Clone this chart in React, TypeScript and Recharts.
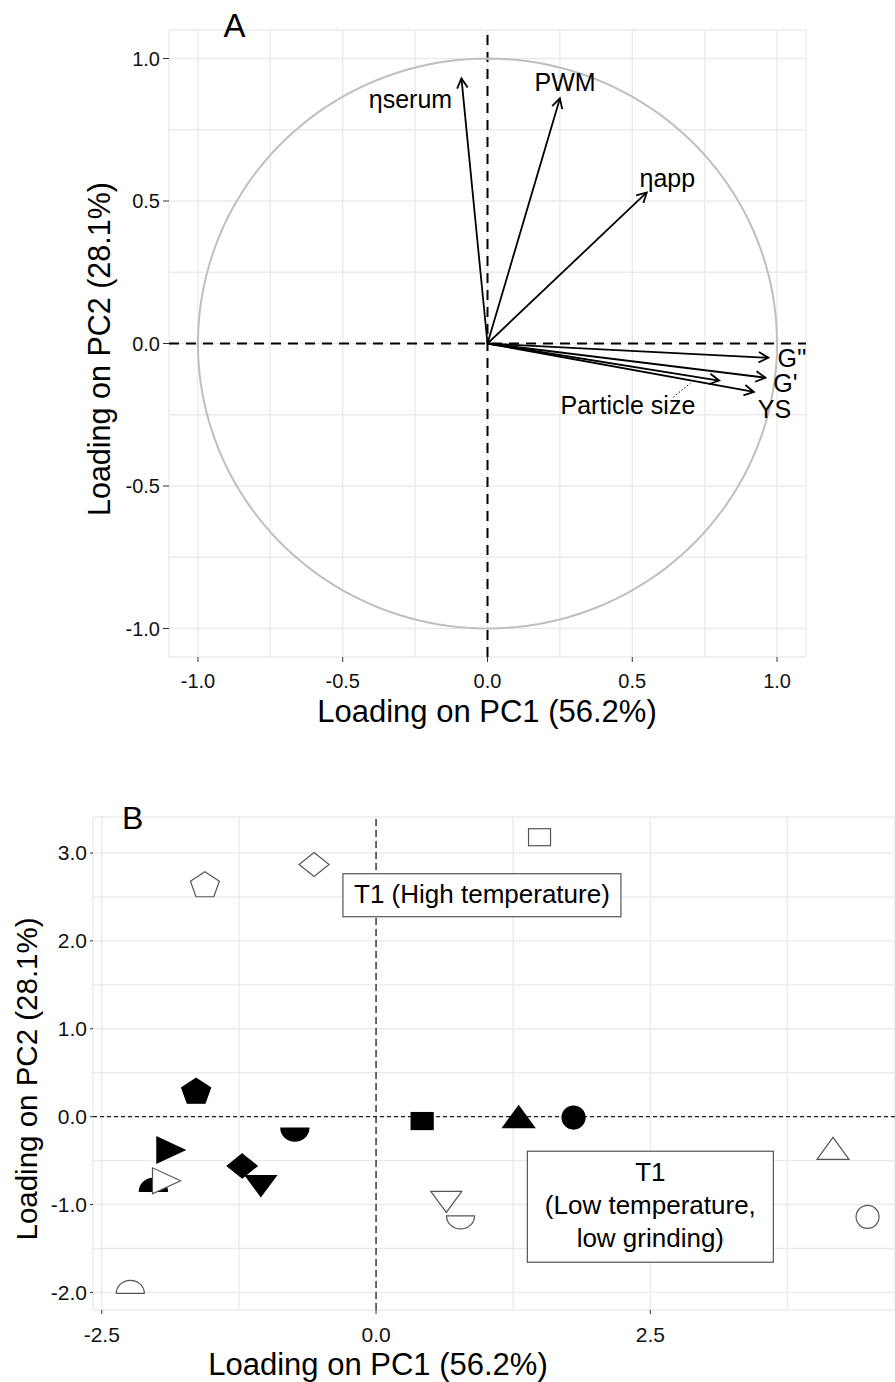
import React from "react";
import {
  ScatterChart,
  Scatter,
  XAxis,
  YAxis,
  CartesianGrid,
  ReferenceLine,
} from "recharts";

const FONT = "'Liberation Sans', Arial, Helvetica, sans-serif";

// ---------- panel A: loadings ----------
const loadingNames = ["ηserum", "PWM", "ηapp", "G''", "G'", "Particle size", "YS"];
const loadingPC1 = [-0.09, 0.25, 0.55, 0.97, 0.96, 0.8, 0.92];
const loadingPC2 = [0.93, 0.86, 0.53, -0.05, -0.12, -0.13, -0.17];
const labelPC1 = [-0.266, 0.268, 0.621, 1.052, 1.029, 0.485, 0.991];
const labelPC2 = [0.825, 0.886, 0.549, -0.082, -0.17, -0.246, -0.26];
const leaderStart = { x: 0.642, y: -0.188 };
const leaderEnd = { x: 0.701, y: -0.139 };
const ticksA = [-1, -0.5, 0, 0.5, 1];
const gridA = [-1, -0.75, -0.5, -0.25, 0, 0.25, 0.5, 0.75, 1];

// correlation circle, radius 1
const circleAngles = Array.from({ length: 181 }, (_, i) => (i * 2 * Math.PI) / 180);
const unitCircle = circleAngles.map((a) => ({ x: Math.cos(a), y: Math.sin(a) }));

// ---------- panel B: scores ----------
const markerShapes = [
  "circle",
  "triangleUp",
  "square",
  "pentagon",
  "diamond",
  "triangleDown",
  "triangleRight",
  "halfUp",
  "halfDown",
];
const filledPC1 = [1.8, 1.3, 0.42, -1.64, -1.22, -1.05, -1.87, -2.03, -0.74];
const filledPC2 = [-0.01, 0.0, -0.05, 0.28, -0.56, -0.79, -0.38, -0.85, -0.13];
const openPC1 = [4.48, 4.165, 1.49, -1.56, -0.565, 0.64, -1.91, -2.24, 0.77];
const openPC2 = [-1.14, -0.36, 3.18, 2.63, 2.87, -0.97, -0.73, -2.01, -1.13];
const ticksBX = [-2.5, 0, 2.5];
const gridBX = [-2.5, -1.25, 0, 1.25, 2.5, 3.75];
const ticksBY = [-2, -1, 0, 1, 2, 3];
const gridBY = [-2, -1.5, -1, -0.5, 0, 0.5, 1, 1.5, 2, 2.5, 3];
const noteLines = [["T1 (High temperature)"], ["T1", "(Low temperature,", "low grinding)"]];
const noteX = [0.965, 2.5];
const noteY = [2.52, -1.025];

const NOTE_BOX = [
  { w: 278, h: 43 },
  { w: 246, h: 111 },
];

const fmt = (v: number) => v.toFixed(1);

const arrowRows = loadingPC1.map((x, i) => ({ x, y: loadingPC2[i] }));
const labelRows = loadingNames.map((name, i) => ({ x: labelPC1[i], y: labelPC2[i], name }));
const filledRows = markerShapes.map((shape, i) => ({
  x: filledPC1[i],
  y: filledPC2[i],
  shape,
  filled: true,
}));
const openRows = markerShapes.map((shape, i) => ({
  x: openPC1[i],
  y: openPC2[i],
  shape,
  filled: false,
}));
const noteRows = noteLines.map((lines, i) => ({ x: noteX[i], y: noteY[i], lines, idx: i }));

const ArrowShape = (p: any) => {
  const { x1, y1, x2, y2 } = p;
  const a = Math.atan2(y2 - y1, x2 - x1);
  const len = 11;
  const spread = 0.5;
  const hx1 = x2 - len * Math.cos(a - spread);
  const hy1 = y2 - len * Math.sin(a - spread);
  const hx2 = x2 - len * Math.cos(a + spread);
  const hy2 = y2 - len * Math.sin(a + spread);
  return (
    <g>
      <line x1={x1} y1={y1} x2={x2} y2={y2} stroke="#000" strokeWidth={1.8} />
      <polyline
        points={`${hx1},${hy1} ${x2},${y2} ${hx2},${hy2}`}
        fill="none"
        stroke="#000"
        strokeWidth={1.8}
      />
    </g>
  );
};

const LoadingLabel = (p: any) => (
  <text
    x={p.cx}
    y={p.cy}
    textAnchor="middle"
    fontSize={25}
    fontFamily={FONT}
    fill="#000"
  >
    {p.payload.name}
  </text>
);

const Marker = (p: any) => {
  const { cx, cy, payload } = p;
  const style = {
    fill: payload.filled ? "#000" : "#fff",
    stroke: payload.filled ? "#000" : "#555",
    strokeWidth: 1.2,
  };
  const pts = (list: number[][]) => list.map(([dx, dy]) => `${cx + dx},${cy + dy}`).join(" ");
  switch (payload.shape) {
    case "circle":
      return <circle cx={cx} cy={cy} r={11.5} {...style} />;
    case "square":
      return <rect x={cx - 11} y={cy - 8.5} width={22} height={17} {...style} />;
    case "triangleUp":
      return <polygon points={pts([[-16, 11], [16, 11], [0, -11]])} {...style} />;
    case "triangleDown":
      return <polygon points={pts([[-15.5, -10.5], [15.5, -10.5], [0, 10.5]])} {...style} />;
    case "triangleRight":
      return <polygon points={pts([[-14, -13], [-14, 13], [14, 0]])} {...style} />;
    case "diamond":
      return <polygon points={pts([[0, -12], [15, 0], [0, 12], [-15, 0]])} {...style} />;
    case "pentagon":
      return (
        <polygon
          points={pts([
            [0, -13.8],
            [14.5, -4.3],
            [8.9, 11.2],
            [-8.9, 11.2],
            [-14.5, -4.3],
          ])}
          {...style}
        />
      );
    case "halfUp":
      return <path d={`M${cx - 14},${cy} A14,13 0 0 1 ${cx + 14},${cy} Z`} {...style} />;
    case "halfDown":
      return <path d={`M${cx - 14},${cy} A14,13 0 0 0 ${cx + 14},${cy} Z`} {...style} />;
    default:
      return <g />;
  }
};

const NoteBox = (p: any) => {
  const { cx, cy, payload } = p;
  const box = NOTE_BOX[payload.idx];
  const n = payload.lines.length;
  return (
    <g>
      <rect
        x={cx - box.w / 2}
        y={cy - box.h / 2}
        width={box.w}
        height={box.h}
        fill="#fff"
        stroke="#555"
        strokeWidth={1.2}
      />
      {payload.lines.map((t: string, i: number) => (
        <text
          key={i}
          x={cx}
          y={cy + (i - (n - 1) / 2) * 33 + 7.5}
          textAnchor="middle"
          fontSize={26}
          fontFamily={FONT}
          fill="#000"
        >
          {t}
        </text>
      ))}
    </g>
  );
};

const tickA = { fontSize: 20, fill: "#111", fontFamily: FONT };
const tickB = { fontSize: 21, fill: "#111", fontFamily: FONT };

const PanelA = () => (
  <ScatterChart width={895} height={760} margin={{ top: 30, right: 89, bottom: 0, left: 0 }}>
    <XAxis
      type="number"
      dataKey="x"
      domain={[-1.1, 1.1]}
      allowDataOverflow
      ticks={ticksA}
      interval={0}
      tickFormatter={fmt}
      axisLine={false}
      tickLine={{ stroke: "#333" }}
      tickSize={5}
      tickMargin={12}
      height={103}
      tick={tickA}
    />
    <YAxis
      type="number"
      dataKey="y"
      domain={[-1.1, 1.1]}
      allowDataOverflow
      ticks={ticksA}
      interval={0}
      tickFormatter={fmt}
      axisLine={false}
      tickLine={{ stroke: "#333" }}
      tickSize={6}
      tickMargin={3}
      width={169}
      tick={tickA}
    />
    <XAxis xAxisId="g" type="number" dataKey="x" domain={[-1.1, 1.1]} allowDataOverflow ticks={gridA} hide />
    <YAxis yAxisId="g" type="number" dataKey="y" domain={[-1.1, 1.1]} allowDataOverflow ticks={gridA} hide />
    <CartesianGrid xAxisId="g" yAxisId="g" stroke="#ebebeb" strokeWidth={1.4} />
    <Scatter
      data={unitCircle}
      line={{ stroke: "#bfbfbf", strokeWidth: 2 }}
      shape={() => <g />}
      isAnimationActive={false}
    />
    <ReferenceLine y={0} stroke="#000" strokeWidth={2} strokeDasharray="10 7" />
    <ReferenceLine x={0} stroke="#000" strokeWidth={2} strokeDasharray="10 7" />
    {arrowRows.map((r, i) => (
      <ReferenceLine
        key={i}
        segment={[
          { x: 0, y: 0 },
          { x: r.x, y: r.y },
        ]}
        shape={ArrowShape}
      />
    ))}
    <ReferenceLine
      segment={[leaderStart, leaderEnd]}
      stroke="#000"
      strokeWidth={1}
      strokeDasharray="1.5 2"
    />
    <Scatter data={labelRows} shape={LoadingLabel} isAnimationActive={false} />
  </ScatterChart>
);

const PanelB = () => (
  <ScatterChart width={895} height={622} margin={{ top: 57, right: 0, bottom: 0, left: 0 }}>
    <XAxis
      type="number"
      dataKey="x"
      domain={[-2.58, 4.73]}
      allowDataOverflow
      ticks={ticksBX}
      interval={0}
      tickFormatter={fmt}
      axisLine={false}
      tickLine={{ stroke: "#333" }}
      tickSize={4}
      tickMargin={13}
      height={72}
      tick={tickB}
    />
    <YAxis
      type="number"
      dataKey="y"
      domain={[-2.2, 3.41]}
      allowDataOverflow
      ticks={ticksBY}
      interval={0}
      tickFormatter={fmt}
      axisLine={false}
      tickLine={{ stroke: "#333" }}
      tickSize={3}
      tickMargin={3}
      width={93}
      tick={tickB}
    />
    <XAxis xAxisId="g" type="number" dataKey="x" domain={[-2.58, 4.73]} allowDataOverflow ticks={gridBX} hide />
    <YAxis yAxisId="g" type="number" dataKey="y" domain={[-2.2, 3.41]} allowDataOverflow ticks={gridBY} hide />
    <CartesianGrid xAxisId="g" yAxisId="g" stroke="#ebebeb" strokeWidth={1.4} />
    <ReferenceLine y={0} stroke="#222" strokeWidth={1.3} strokeDasharray="4 3" />
    <ReferenceLine x={0} stroke="#222" strokeWidth={1.3} strokeDasharray="7 4" />
    <Scatter data={filledRows} shape={Marker} isAnimationActive={false} />
    <Scatter data={openRows} shape={Marker} isAnimationActive={false} />
    <Scatter data={noteRows} shape={NoteBox} isAnimationActive={false} />
  </ScatterChart>
);

export default function App() {
  return (
    <div
      style={{
        position: "absolute",
        left: 0,
        top: 0,
        width: 895,
        height: 1382,
        background: "#fff",
        overflow: "hidden",
      }}
    >
      <div style={{ position: "absolute", left: 0, top: 0 }}>
        <PanelA />
      </div>
      <div style={{ position: "absolute", left: 0, top: 760 }}>
        <PanelB />
      </div>
      <svg
        width={895}
        height={1382}
        style={{ position: "absolute", left: 0, top: 0, pointerEvents: "none" }}
        fontFamily={FONT}
        fill="#000"
      >
        <text x={234.5} y={37} fontSize={33} textAnchor="middle">
          A
        </text>
        <text x={487} y={722} fontSize={31} textAnchor="middle">
          Loading on PC1 (56.2%)
        </text>
        <text transform="translate(110,349) rotate(-90)" fontSize={30.5} textAnchor="middle">
          Loading on PC2 (28.1%)
        </text>
        <text x={122} y={829} fontSize={32}>
          B
        </text>
        <text x={378} y={1375} fontSize={31} textAnchor="middle">
          Loading on PC1 (56.2%)
        </text>
        <text transform="translate(37,1079) rotate(-90)" fontSize={29.5} textAnchor="middle">
          Loading on PC2 (28.1%)
        </text>
      </svg>
    </div>
  );
}
